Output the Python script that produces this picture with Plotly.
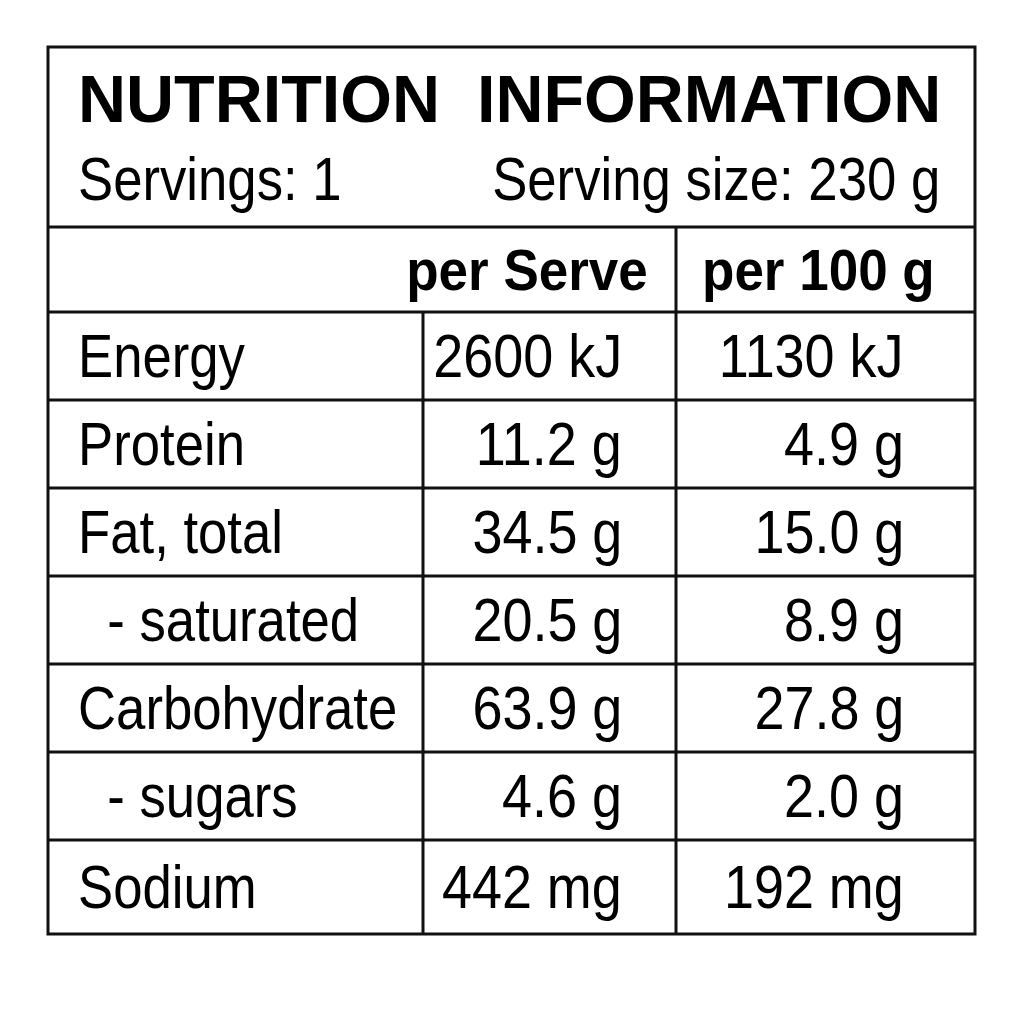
import json
import plotly.graph_objects as go

# ---- data ----
title = "NUTRITION  INFORMATION"
servings_text = "Servings: 1"
serving_size_text = "Serving size: 230 g"
col_headers = ["per Serve", "per 100 g"]
nutrients = ["Energy", "Protein", "Fat, total", "  - saturated", "Carbohydrate", "  - sugars", "Sodium"]
per_serve = ["2600 kJ", "11.2 g", "34.5 g", "20.5 g", "63.9 g", "4.6 g", "442 mg"]
per_100g = ["1130 kJ", "4.9 g", "15.0 g", "8.9 g", "27.8 g", "2.0 g", "192 mg"]

# ---- layout geometry (pixel-like data units) ----
X0, X1 = 48, 975
XC1, XC2 = 423, 676
Y_TOP = 47
Y_HEAD = 227
Y_COLHEAD = 312
ROW_H = 88
Y_BOT = 934
row_lines = [Y_COLHEAD + ROW_H * i for i in range(len(nutrients))] + [Y_BOT]

FONT = "Liberation Sans, Arial, Helvetica, sans-serif"
LW = 3
BLACK = "#111111"

fig = go.Figure()
fig.add_trace(go.Scatter(x=[100, 900], y=[100, 900], mode="markers",
                         marker=dict(opacity=0), hoverinfo="skip", showlegend=False))

shapes = [dict(type="rect", x0=X0, x1=X1, y0=Y_TOP, y1=Y_BOT,
               line=dict(color=BLACK, width=LW))]
for y in [Y_HEAD] + row_lines[1:-1] + [Y_COLHEAD]:
    shapes.append(dict(type="line", x0=X0, x1=X1, y0=y, y1=y, line=dict(color=BLACK, width=LW)))
shapes.append(dict(type="line", x0=XC2, x1=XC2, y0=Y_HEAD, y1=Y_BOT, line=dict(color=BLACK, width=LW)))
shapes.append(dict(type="line", x0=XC1, x1=XC1, y0=Y_COLHEAD, y1=Y_BOT, line=dict(color=BLACK, width=LW)))

ann, scales, origins = [], [], []
def txt(x, y, s, size, xanchor="left", bold=False, sx=1.0):
    ann.append(dict(x=x, y=y, text=("<b>%s</b>" % s) if bold else s, showarrow=False,
                    xanchor=xanchor, yanchor="middle",
                    font=dict(size=size, family=FONT, color="#000000"),
                    xref="x", yref="y"))
    scales.append(sx)
    origins.append(xanchor)

REG, REG_SX = 62, 0.85
VAL_SX = 0.87
HDR, HDR_SX = 57, 0.93

txt(76, 99, title, 66.5, bold=True)
txt(76, 178, servings_text, REG, sx=REG_SX)
txt(942, 178, serving_size_text, REG, xanchor="right", sx=REG_SX)
txt(650, 270, col_headers[0], HDR, xanchor="right", bold=True, sx=HDR_SX)
txt(700, 270, col_headers[1], HDR, xanchor="left", bold=True, sx=HDR_SX)

for i, (n, a, b) in enumerate(zip(nutrients, per_serve, per_100g)):
    yc = (row_lines[i] + row_lines[i + 1]) / 2 - 1
    txt(76, yc, n.replace("  ", "&nbsp;&nbsp;"), REG, sx=REG_SX)
    txt(624, yc, a, REG, xanchor="right", sx=VAL_SX)
    txt(906, yc, b, REG, xanchor="right", sx=VAL_SX)

fig.update_layout(
    width=1024, height=1024, margin=dict(l=0, r=0, t=0, b=0),
    paper_bgcolor="white", plot_bgcolor="white",
    xaxis=dict(range=[8, 1032], visible=False, fixedrange=True),
    yaxis=dict(range=[1032, 8], visible=False, fixedrange=True),
    shapes=shapes, annotations=ann, showlegend=False,
)

post = """
var SC = %s, ORG = %s;
function squeeze(){
  var gd = document.querySelector('.plotly-graph-div');
  if(!gd) return;
  gd.querySelectorAll('g.annotation').forEach(function(g){
    var i = parseInt(g.getAttribute('data-index'));
    var t = g.querySelector('text.annotation-text');
    if(!t || isNaN(i) || SC[i] === 1) return;
    t.style.transformBox = 'fill-box';
    t.style.transformOrigin = (ORG[i] === 'right' ? 'right' : 'left') + ' center';
    t.style.transform = 'scaleX(' + SC[i] + ')';
  });
}
squeeze();
var gdd = document.querySelector('.plotly-graph-div');
if(gdd && gdd.on){ gdd.on('plotly_afterplot', squeeze); }
setTimeout(squeeze, 50); setTimeout(squeeze, 300);
""" % (json.dumps(scales), json.dumps(origins))

fig.write_html("out.html", post_script=post)
